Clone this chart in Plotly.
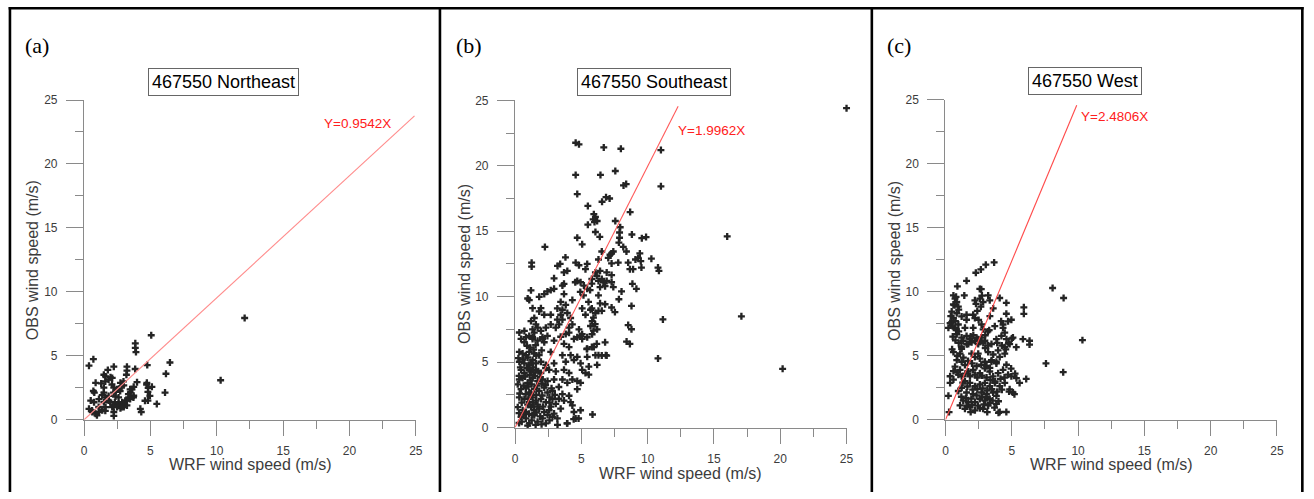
import plotly.graph_objects as go

W, H = 1314, 499

# ---------------- data ----------------
panel_labels = ["(a)", "(b)", "(c)"]
titles = ["467550 Northeast", "467550 Southeast", "467550 West"]
slopes = [0.9542, 1.9962, 2.4806]
fit_x_end = [24.9, 12.3, 9.9]
eq_labels = ["Y=0.9542X", "Y=1.9962X", "Y=2.4806X"]
x_title = "WRF wind speed (m/s)"
y_title = "OBS wind speed (m/s)"
tick_vals = [0, 5, 10, 15, 20, 25]

a_pts = [
    (0.37, 4.23), (0.70, 4.74), (2.24, 4.15), (5.06, 6.61), (3.86, 5.98), (3.86, 5.62), (3.91, 5.29),
    (4.76, 4.28), (6.47, 4.48), (6.17, 3.60), (6.10, 2.13), (5.48, 1.24), (4.81, 1.50), (4.81, 2.18),
    (4.73, 2.89), (5.11, 2.58), (4.24, 0.86), (4.31, 0.61), (3.23, 4.15), (3.23, 3.85), (3.19, 3.52),
    (3.85, 3.97), (1.79, 3.90), (1.49, 3.52), (1.62, 3.39), (1.99, 3.32), (2.12, 3.27), (0.87, 2.89),
    (0.70, 2.25), (0.77, 2.13), (1.29, 2.84), (1.49, 2.51), (1.49, 2.13), (1.37, 1.93), (2.24, 2.51),
    (2.37, 2.18), (2.61, 2.38), (2.37, 1.82), (2.74, 2.89), (2.99, 2.69), (3.49, 2.13), (3.61, 2.38),
    (3.74, 2.58), (3.99, 2.94), (3.36, 1.75), (3.23, 1.50), (3.74, 1.88), (0.50, 1.50), (0.75, 1.37),
    (1.12, 1.62), (1.49, 1.37), (1.87, 1.50), (2.32, 1.37), (2.62, 1.24), (2.99, 1.12), (2.87, 1.37),
    (3.23, 1.12), (0.37, 0.86), (0.62, 0.61), (0.87, 0.48), (1.12, 0.61), (1.37, 0.74), (1.62, 0.99),
    (2.12, 0.99), (2.24, 0.61), (2.24, 0.30), (2.49, 0.99), (2.74, 0.91), (2.99, 0.99), (1.85, 3.14),
    (1.60, 3.00), (2.10, 2.76), (2.47, 2.38), (2.72, 2.25), (2.22, 2.13), (1.85, 1.87), (1.60, 1.75),
    (2.84, 2.63), (2.97, 3.00), (2.60, 1.75), (2.97, 1.24), (2.84, 0.99), (3.10, 1.49), (3.47, 1.62),
    (3.72, 1.75), (3.47, 2.38), (3.34, 2.00), (4.71, 2.76), (4.96, 1.87), (4.59, 1.49), (1.10, 1.00),
    (1.35, 0.80), (1.60, 0.70), (0.97, 0.35), (0.60, 0.73), (1.97, 1.37), (2.20, 1.10), (4.83, 2.50),
    (10.29, 3.09), (12.10, 7.96),
]

b_pts = [
    (7.36, 25.5), (15.04, 25.03), (25.0, 24.4), (4.57, 21.76), (4.82, 21.64), (6.69, 21.4), (7.98, 21.3),
    (11.0, 21.2), (4.57, 19.3), (6.44, 19.3), (7.56, 19.6), (8.18, 18.5), (8.38, 18.6), (11.0, 18.43),
    (4.69, 17.84), (5.49, 16.93), (6.56, 17.25), (6.86, 17.6), (7.13, 17.5), (8.68, 16.46), (5.94, 16.3),
    (6.06, 16.1), (5.89, 15.9), (6.19, 15.78), (5.99, 15.7), (5.49, 15.5), (7.56, 15.78), (7.93, 15.3),
    (7.88, 14.9), (4.69, 14.5), (5.06, 14.0), (6.06, 14.94), (6.39, 14.57), (8.81, 14.75), (7.88, 14.5),
    (9.56, 14.47), (9.88, 14.55), (16.0, 14.6), (2.25, 13.8),
    (7.83, 14.13), (8.16, 13.8), (8.4, 13.45), (6.54, 13.45), (7.16, 13.2), (7.28, 13.3), (7.41, 13.45),
    (7.03, 12.96), (7.28, 12.54), (6.29, 12.84), (6.41, 11.97), (6.91, 11.85), (7.28, 11.65), (7.78, 12.6),
    (8.53, 12.6), (8.66, 12.1), (8.9, 12.1), (9.08, 12.84), (9.28, 12.96), (9.41, 13.3), (9.48, 12.72),
    (9.53, 12.22), (10.28, 12.9), (10.78, 12.22), (10.85, 11.97), (6.29, 11.2), (6.66, 11.1), (6.91, 11.2),
    (7.28, 11.1), (7.41, 10.73), (6.41, 10.73), (6.79, 10.8), (8.85, 10.98), (9.15, 10.6), (8.03, 10.4),
    (7.83, 9.8), (6.29, 10.1), (6.41, 9.49), (6.79, 9.42), (7.28, 9.17), (7.53, 8.82), (6.29, 8.92),
    (6.54, 8.92), (8.78, 9.29), (11.15, 8.26), (8.53, 7.83), (8.78, 7.51), (6.79, 6.51), (8.41, 6.57),
    (8.66, 6.39), (6.29, 5.53), (6.84, 5.53), (10.78, 5.28), (17.07, 8.5), (20.18, 4.49),
    (1.25, 12.6), (1.25, 12.3), (3.8, 13.0), (3.2, 12.35), (3.4, 12.5), (4.57, 12.6), (4.82, 12.4),
    (5.44, 12.5), (5.31, 12.1), (3.69, 11.85), (3.94, 11.97), (2.94, 11.4), (3.69, 10.98), (3.57, 10.85),
    (4.69, 11.2), (4.94, 11.1), (5.19, 10.85), (5.44, 10.6), (6.06, 11.85), (1.2, 10.48), (0.95, 9.86),
    (1.07, 9.74), (1.82, 9.99), (2.2, 10.2), (2.44, 10.4), (2.69, 10.5), (2.94, 10.6), (3.69, 10.2),
    (3.44, 9.6), (3.82, 9.37), (4.32, 9.74), (1.32, 9.12), (1.95, 9.12), (1.82, 8.87), (2.2, 8.62),
    (2.69, 8.62), (3.19, 9.1), (3.57, 9.0), (3.44, 8.62), (3.94, 8.75), (4.19, 8.37), (3.57, 8.25),
    (3.19, 8.25), (5.06, 9.1), (5.31, 8.62), (5.69, 9.0), (6.06, 8.75), (5.81, 8.13), (1.45, 8.37),
    (1.2, 8.13), (1.57, 7.88), (1.7, 7.63), (1.32, 7.5), (1.95, 7.38), (1.45, 7.25), (2.32, 7.63),
    (2.69, 7.88), (3.07, 7.63), (3.32, 7.88), (4.07, 7.63), (4.32, 7.88), (4.07, 7.25), (4.82, 7.5),
    (5.06, 7.13), (5.69, 7.76), (5.81, 7.13), (6.19, 7.5), (0.32, 7.26), (0.82, 6.9), (1.07, 7.0),
    (1.32, 6.9), (0.7, 7.38), (2.07, 6.9), (2.44, 7.0), (3.44, 6.94), (3.82, 7.14), (4.69, 6.9),
    (4.94, 7.0), (5.44, 6.9),
    (5.66, 10.5), (5.79, 11.0), (5.79, 11.35), (6.16, 11.6), (6.54, 11.35), (5.54, 9.6), (5.79, 9.1),
    (5.91, 8.4), (6.04, 7.9), (5.91, 7.4), (6.54, 5.5), (6.91, 5.5), (6.16, 6.4), (5.79, 6.15),
    (5.41, 6.0), (5.84, 1.0), (4.79, 0.69), (4.42, 0.64), (3.92, 0.32), (4.92, 10.36), (5.16, 10.1),
    (4.54, 11.1),
    (0.45, 6.77), (0.7, 6.52), (1.32, 6.77), (1.7, 6.64), (2.07, 6.77), (2.2, 6.52), (2.94, 6.64),
    (3.69, 6.4), (4.07, 6.15), (4.44, 6.77), (5.06, 6.77), (5.44, 6.02), (5.94, 6.15),
    (0.32, 5.78), (0.57, 5.65), (0.82, 5.53), (1.07, 5.78), (1.45, 5.65), (1.82, 5.53), (2.69, 5.78),
    (3.57, 5.53), (4.19, 5.53), (4.69, 5.4), (5.44, 5.4), (6.06, 5.53),
    (0.32, 5.03), (0.7, 4.91), (1.07, 4.79), (1.32, 5.16), (1.57, 4.91), (1.95, 5.03), (2.32, 4.79),
    (2.94, 4.91), (3.82, 5.03), (4.44, 5.16), (4.94, 4.91), (5.56, 4.66), (6.19, 4.79),
    (0.45, 4.41), (0.7, 4.17), (1.2, 4.29), (1.57, 4.41), (1.95, 4.17), (2.57, 4.41), (3.07, 4.29),
    (3.69, 4.41), (4.07, 4.17), (5.06, 4.41), (5.31, 4.17), (5.56, 4.04),
    (0.32, 3.67), (0.57, 3.79), (0.95, 3.42), (1.32, 3.79), (1.7, 3.55), (2.07, 3.67), (2.45, 3.55),
    (2.94, 3.67), (3.57, 3.67), (3.94, 3.42), (4.32, 3.67), (4.69, 3.55), (4.94, 3.42),
    (0.45, 2.93), (0.82, 3.05), (1.07, 2.68), (1.45, 2.93), (1.82, 2.8), (2.2, 3.05), (2.45, 2.68),
    (2.82, 2.8), (3.57, 2.56), (4.07, 2.43), (4.69, 2.93),
    (0.32, 2.31), (0.7, 2.18), (1.07, 1.94), (1.32, 2.31), (1.57, 2.06), (1.95, 2.18), (2.32, 1.94),
    (2.82, 2.18), (3.07, 1.81), (3.69, 2.06), (4.19, 1.94), (4.32, 1.69),
    (0.2, 1.56), (0.57, 1.32), (0.82, 1.19), (1.2, 1.56), (1.45, 1.32), (1.82, 1.44), (2.2, 1.19),
    (2.57, 1.32), (2.94, 1.07), (3.44, 1.44), (4.44, 1.19), (4.94, 1.32),
    (0.3, 0.35), (0.45, 0.82), (0.82, 0.7), (1.07, 0.32), (1.45, 0.94), (1.7, 0.45), (2.07, 0.7),
    (2.32, 0.32), (2.82, 0.82), (3.19, 0.7), (3.94, 0.32), (4.57, 0.7),
    (0.25, 5.3), (0.6, 5.2), (0.95, 5.35), (1.2, 4.95), (1.6, 5.5), (2.0, 5.9), (0.4, 4.6), (0.9, 4.55),
    (1.35, 4.6), (1.75, 4.3), (2.3, 4.55), (0.3, 3.95), (0.75, 3.9), (1.1, 4.0), (1.5, 3.95), (1.9, 3.85),
    (2.3, 3.25), (0.2, 3.3), (0.65, 3.2), (1.0, 3.15), (1.25, 3.3), (1.65, 3.2), (2.0, 3.35), (0.35, 2.6),
    (0.8, 2.55), (1.2, 2.6), (1.6, 2.5), (2.05, 2.45), (2.6, 2.3), (0.5, 1.9), (0.95, 1.75), (1.35, 1.9),
    (1.7, 1.75), (2.1, 1.6), (2.7, 1.6), (0.3, 1.1), (0.65, 1.0), (1.05, 1.05), (1.3, 0.95), (1.6, 1.15),
    (1.9, 0.85), (2.45, 0.95), (0.5, 0.45), (0.95, 0.15), (1.25, 0.55), (1.55, 0.2), (2.0, 0.25),
    (2.6, 0.55), (3.2, 0.2), (1.15, 6.1), (1.4, 5.95), (0.9, 6.25), (1.55, 6.3), (1.0, 2.2), (1.4, 1.6),
    (1.15, 3.6), (1.4, 4.2), (1.05, 4.5), (2.75, 3.0), (3.3, 3.1), (3.0, 2.5), (2.6, 1.9), (3.3, 2.2),
]

c_pts = [
    (3.67, 12.29), (3.04, 12.11), (2.67, 11.74), (2.29, 11.48), (1.59, 10.85), (0.9, 10.42), (2.59, 10.22),
    (8.08, 10.29), (8.91, 9.51), (0.6, 9.71), (0.72, 9.46), (0.85, 9.2), (0.67, 8.95), (0.97, 8.83),
    (1.42, 9.71), (2.22, 9.33), (2.59, 9.46), (2.84, 9.2), (2.67, 8.83), (3.22, 9.71), (3.34, 9.33),
    (4.09, 9.51), (4.59, 9.13), (5.91, 8.78), (5.91, 8.27), (4.59, 8.28), (4.97, 7.81), (4.72, 7.69),
    (4.34, 7.44), (3.72, 7.31), (0.47, 8.45), (0.85, 8.32), (0.6, 7.93), (0.35, 7.55), (0.22, 7.18),
    (0.72, 7.18), (0.97, 7.44), (1.22, 8.07), (1.59, 8.2), (1.59, 7.81), (2.09, 8.2), (2.22, 7.95),
    (2.09, 7.18), (1.47, 7.18), (2.72, 7.44), (2.84, 7.06), (4.34, 7.18), (4.47, 6.8), (5.09, 6.42),
    (5.84, 6.3), (6.34, 6.17), (6.34, 5.87), (4.22, 6.55), (3.84, 6.3), (10.33, 6.22),
    (0.85, 6.68), (1.22, 6.42), (1.59, 6.55), (1.84, 6.3), (1.97, 6.05), (2.22, 6.17), (2.47, 6.3),
    (2.72, 6.42), (2.97, 6.17), (2.47, 5.92), (3.22, 5.8), (3.47, 5.92), (1.34, 6.17), (1.72, 5.92),
    (0.6, 5.29), (1.1, 5.16), (1.22, 5.54), (0.85, 4.66), (1.22, 4.53), (1.47, 4.28), (1.97, 5.16),
    (2.22, 4.91), (2.59, 4.78), (2.47, 5.16), (3.22, 5.29), (3.47, 4.66), (3.84, 4.53), (4.09, 4.91),
    (4.47, 5.67), (4.84, 5.92), (5.34, 5.67), (4.47, 5.16), (3.97, 5.42), (7.58, 4.4), (8.88, 3.72),
    (0.72, 4.15), (1.1, 3.9), (0.97, 3.52), (0.6, 3.14), (0.35, 2.88), (1.22, 3.39), (1.72, 3.77),
    (2.09, 3.9), (2.22, 3.52), (2.59, 3.64), (2.97, 4.02), (3.34, 3.77), (3.59, 3.39), (3.97, 3.64),
    (4.34, 3.9), (4.72, 3.52), (4.97, 3.39), (3.84, 4.4), (3.47, 4.53), (2.97, 4.53), (5.59, 2.88),
    (6.09, 3.19), (1.47, 3.01), (1.84, 2.88), (2.22, 2.63), (2.59, 2.76), (2.97, 2.88), (3.34, 2.63),
    (3.72, 2.88), (4.09, 2.63), (4.47, 2.88), (4.84, 2.38), (5.09, 2.13), (1.22, 2.5), (0.97, 2.25),
    (1.59, 2.13), (2.09, 2.0), (2.72, 2.13), (3.09, 2.0), (3.59, 2.13), (3.84, 1.87), (3.34, 1.62),
    (2.97, 1.49), (2.59, 1.62), (2.22, 1.37), (1.72, 1.37), (1.34, 1.49), (1.1, 1.12), (1.47, 0.86),
    (1.84, 0.99), (2.22, 0.74), (2.84, 0.86), (3.22, 1.12), (3.84, 1.24), (4.09, 0.61), (4.59, 0.61),
    (0.22, 1.87), (0.27, 0.6),
    (0.45, 7.6), (0.55, 7.3), (0.8, 7.0), (1.0, 6.9), (0.55, 6.5), (0.75, 6.2), (1.0, 6.0), (1.6, 5.9),
    (1.9, 6.5), (2.1, 6.6), (2.35, 6.4), (2.6, 6.1), (2.85, 6.0), (3.0, 6.6), (3.2, 6.9), (1.2, 5.7),
    (0.5, 5.5), (0.9, 5.0), (1.35, 4.85), (1.7, 4.6), (2.0, 4.4), (2.35, 4.2), (2.7, 4.3), (3.1, 4.2),
    (3.35, 4.05), (1.5, 3.6), (1.85, 3.4), (2.4, 3.3), (2.75, 3.45), (3.1, 3.3), (3.4, 3.1), (3.75, 3.0),
    (4.15, 3.2), (1.3, 2.9), (1.65, 2.6), (2.05, 2.35), (2.4, 2.4), (2.8, 2.45), (3.15, 2.3), (3.5, 2.4),
    (3.9, 2.2), (4.25, 2.35), (1.2, 1.8), (1.55, 1.7), (1.95, 1.65), (2.35, 1.9), (2.75, 1.75), (3.1, 1.8),
    (3.55, 1.5), (4.0, 1.45), (1.6, 1.1), (2.0, 1.15), (2.45, 1.1), (2.9, 1.2), (3.35, 1.3), (3.7, 0.95),
    (4.0, 0.55), (1.9, 0.6), (2.6, 0.9), (3.15, 0.6), (0.6, 3.8), (0.9, 3.7), (0.35, 3.4), (4.6, 4.3),
    (4.95, 4.0), (5.25, 3.6), (5.35, 3.25), (4.45, 3.3), (4.8, 2.2), (5.2, 2.0), (4.75, 6.0), (4.6, 6.3),
    (5.0, 6.35), (4.25, 5.8), (4.55, 5.5), (0.6, 9.0), (0.8, 9.6), (1.0, 8.6), (0.4, 8.1), (0.75, 7.7),
    (2.3, 9.05), (2.75, 9.7), (2.4, 8.5), (3.6, 8.7), (4.2, 7.7), (3.35, 8.1), (3.3, 7.0), (2.5, 7.8),
    (3.0, 5.6), (3.6, 5.1), (3.9, 6.0), (2.7, 10.2),
]
panel_points = [a_pts, b_pts, c_pts]

# ---------------- layout geometry (pixels in the 1314x499 canvas) ----------------
plot_px = [  # (x_left, x_right, y_bottom(0), y_top(25))
    (81.7, 416.0, 424.7, 95.7),
    (516.0, 850.0, 432.7, 96.0),
    (949.7, 1283.7, 424.7, 95.3),
]
title_px = [(221.7, 76.7), (656.0, 77.0), (1090.0, 76.5)]
label_px = [(34.5, 40.0), (469.5, 40.0), (903.0, 40.0)]
eq_pos = [(20.6, 23.2), (14.8, 22.7), (12.75, 23.65)]
xt_px = [(249.0, 471.0), (683.0, 480.0), (1116.7, 471.0)]
yt_px = [(30.0, 260.7), (465.0, 264.0), (898.3, 260.8)]
fit_colors = ["#ff8c8c", "#ff5a5a", "#ff4a4a"]


def px(x):
    return x / W


def py(y):
    return 1 - y / H


AX = "#8a8a8a"
FONT = "Arial, Liberation Sans, sans-serif"
CENTER = dict(xanchor="center", yanchor="middle", showarrow=False)

fig = go.Figure()
annotations = []
for i in range(3):
    sfx = "" if i == 0 else str(i + 1)
    xa, ya = "x" + sfx, "y" + sfx
    pts = panel_points[i]
    fig.add_trace(go.Scatter(
        x=[p[0] for p in pts], y=[p[1] for p in pts], mode="markers",
        marker=dict(symbol="cross", size=5.8, color="#242424", line=dict(width=0)),
        xaxis=xa, yaxis=ya, cliponaxis=False, showlegend=False, hoverinfo="x+y"))
    fig.add_trace(go.Scatter(
        x=[0, fit_x_end[i]], y=[0, slopes[i] * fit_x_end[i]], mode="lines",
        line=dict(color=fit_colors[i], width=1.1),
        xaxis=xa, yaxis=ya, cliponaxis=False, showlegend=False, hoverinfo="skip"))

    xl, xr, yb, yt = plot_px[i]
    common = dict(range=[0, 25], tickvals=tick_vals, showline=True, linecolor=AX, linewidth=1.3,
                  ticks="outside", tickcolor=AX, tickwidth=1.3, showgrid=False, zeroline=False,
                  tickfont=dict(family=FONT, size=12, color="#3c3c3c"),
                  minor=dict(tickvals=[2.5, 7.5, 12.5, 17.5, 22.5], ticks="outside", ticklen=8,
                             tickcolor=AX, tickwidth=1.3))
    fig.update_layout(**{
        "xaxis" + sfx: dict(common, domain=[px(xl), px(xr)], anchor=ya, ticklen=15,
                            ticklabelstandoff=5),
        "yaxis" + sfx: dict(common, domain=[py(yb), py(yt)], anchor=xa, ticklen=17,
                            ticklabelstandoff=6),
    })

    annotations.append(dict(CENTER, text=titles[i], x=px(title_px[i][0]), y=py(title_px[i][1]),
                            xref="paper", yref="paper",
                            font=dict(family=FONT, size=18, color="#000"),
                            bordercolor="#666", borderwidth=1, borderpad=3))
    annotations.append(dict(CENTER, text=panel_labels[i], x=px(label_px[i][0]), y=py(label_px[i][1]),
                            xref="paper", yref="paper",
                            font=dict(family="Liberation Serif, Times New Roman, serif", size=22, color="#000")))
    annotations.append(dict(CENTER, text=eq_labels[i], x=eq_pos[i][0], y=eq_pos[i][1],
                            xref=xa, yref=ya,
                            font=dict(family=FONT, size=13.5, color="#ff2020")))
    annotations.append(dict(CENTER, text=x_title, x=px(xt_px[i][0]), y=py(xt_px[i][1]),
                            xref="paper", yref="paper",
                            font=dict(family=FONT, size=16, color="#3c3c3c")))
    annotations.append(dict(CENTER, text=y_title, x=px(yt_px[i][0]), y=py(yt_px[i][1]), textangle=-90,
                            xref="paper", yref="paper",
                            font=dict(family=FONT, size=16, color="#3c3c3c")))

shapes = []
border = dict(color="black", width=2.6)
for xv in [7.0, 440.3, 875.5, 1309.3]:
    shapes.append(dict(type="line", xref="paper", yref="paper", x0=px(xv), x1=px(xv), y0=0, y1=1,
                       line=border))
shapes.append(dict(type="line", xref="paper", yref="paper", x0=px(5.7), x1=px(1310.6),
                   y0=py(1.3), y1=py(1.3), line=border))

fig.update_layout(width=W, height=H, margin=dict(l=0, r=0, t=0, b=0), autosize=False,
                  paper_bgcolor="white", plot_bgcolor="white",
                  annotations=annotations, shapes=shapes)

fig.write_html(
    "out.html",
    config={"displayModeBar": False},
    post_script=(
        "document.documentElement.style.margin='0';document.documentElement.style.padding='0';"
        "document.documentElement.style.overflow='hidden';"
        "document.body.style.margin='0';document.body.style.padding='0';document.body.style.overflow='hidden';"
        "var gd=document.getElementById('{plot_id}');"
        "gd.style.position='fixed';gd.style.left='0px';gd.style.top='0px';"
    ),
)
